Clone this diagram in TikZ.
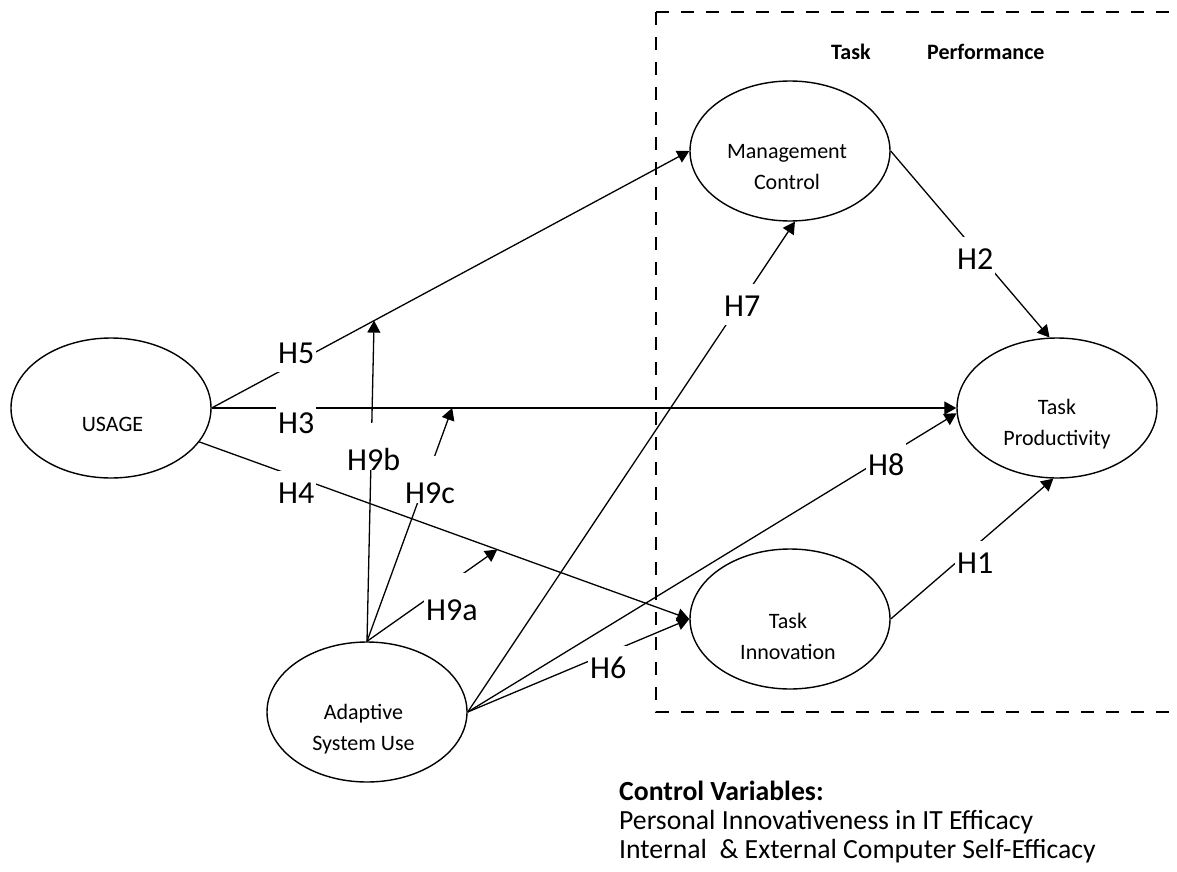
\documentclass[tikz,border=0pt]{standalone}
\usepackage{fontspec}
\setmainfont{Carlito}
\usetikzlibrary{shapes.geometric,arrows.meta,calc}
\begin{document}
\begin{tikzpicture}[x=1pt,y=-1pt,
  ell/.style={ellipse,draw,line width=1.4pt,minimum width=200pt,minimum height=140pt,inner sep=0pt},
  etxt/.style={font=\fontsize{22}{31}\selectfont,inner sep=0pt,anchor=base},
  conn/.style={line width=1.3pt,-{Triangle[length=12pt,width=13pt]}},
  lab/.style={fill=white,font=\fontsize{32}{38}\selectfont,inner xsep=2pt,inner ysep=0pt,text height=32pt,text depth=9pt,anchor=base west},
  labt/.style={lab,text height=47pt,text depth=0pt},
  frame/.style={line width=1.5pt,dash pattern=on 13pt off 12pt},
]
\useasboundingbox (0,0) rectangle (1177,872);

% dashed task performance frame
\draw[frame] (656,12) -- (1177,12);
\draw[frame] (656,12) -- (656,712) -- (1177,712);
\node[font=\fontsize{22}{26}\selectfont\bfseries,inner sep=0pt,anchor=base west] (hd1) at (831,60) {Task};
\node[font=\fontsize{22}{26}\selectfont\bfseries,inner sep=0pt,anchor=base west] (hd2) at (927,60) {Performance};

% ellipses
\node[ell] (U) at (111,408) {};
\node[ell] (MC) at (790,151) {};
\node[ell] (TP) at (1057,408) {};
\node[ell] (TI) at (790,619) {};
\node[ell] (ASU) at (367,712) {};

% ellipse texts
\node[etxt] (Ut) at (112.5,431) {USAGE};
\node[etxt] (MCt) at (787,158) {\begin{tabular}[t]{@{}c@{}}Management\\Control\end{tabular}};
\node[etxt] (TPt) at (1057,414) {\begin{tabular}[t]{@{}c@{}}Task\\Productivity\end{tabular}};
\node[etxt] (TIt) at (788,628) {\begin{tabular}[t]{@{}c@{}}Task\\Innovation\end{tabular}};
\node[etxt] (ASUt) at (363.5,719) {\begin{tabular}[t]{@{}c@{}}Adaptive\\System Use\end{tabular}};

% main paths
\draw[conn] (U.east) -- (MC.west);
\draw[conn] (U.east) -- (TP.west);
\draw[conn] (U.-21) -- (TI.west);
\draw[conn] (MC.east) -- (TP.96);
\draw[conn] (TI.east) -- (TP.-93);
\draw[conn] (ASU.east) -- (TI.west);
\draw[conn] (ASU.east) -- (MC.274);
\draw[conn] (ASU.east) -- (TP.183);

% moderating paths
\coordinate (m5) at ($(U.east)!0.34!(MC.west)$);
\coordinate (m3) at ($(U.east)!0.323!(TP.west)$);
\coordinate (m4) at ($(U.-21)!0.608!(TI.west)$);
\draw[conn] (ASU.north) -- (m5);
\draw[conn] (ASU.north) -- (m3);
\draw[conn] (ASU.north) -- (m4);

% labels
\node[lab] (H5) at (276,363) {H5};
\node[lab] (H3) at (276,433) {H3};
\node[lab] (H4) at (276,503) {H4};
\node[labt] (H9b) at (345,470) {H9b};
\node[labt] (H9c) at (403,503) {H9c};
\node[labt] (H9a) at (424,620) {H9a};
\node[lab] (H6) at (588,678) {H6};
\node[lab] (H7) at (722,316) {H7};
\node[lab] (H8) at (866,475) {H8};
\node[lab] (H2) at (955,269) {H2};
\node[lab] (H1) at (955,573) {H1};

% control variables
\node[font=\fontsize{27.7}{29}\selectfont,inner sep=0pt,anchor=base west] (cv) at (619,800.3)
  {\begin{tabular}[t]{@{}l@{}}\textbf{Control Variables:}\\Personal Innovativeness in IT Efficacy\\Internal\ \ \& External Computer Self-Efficacy\end{tabular}};
\end{tikzpicture}
\end{document}
